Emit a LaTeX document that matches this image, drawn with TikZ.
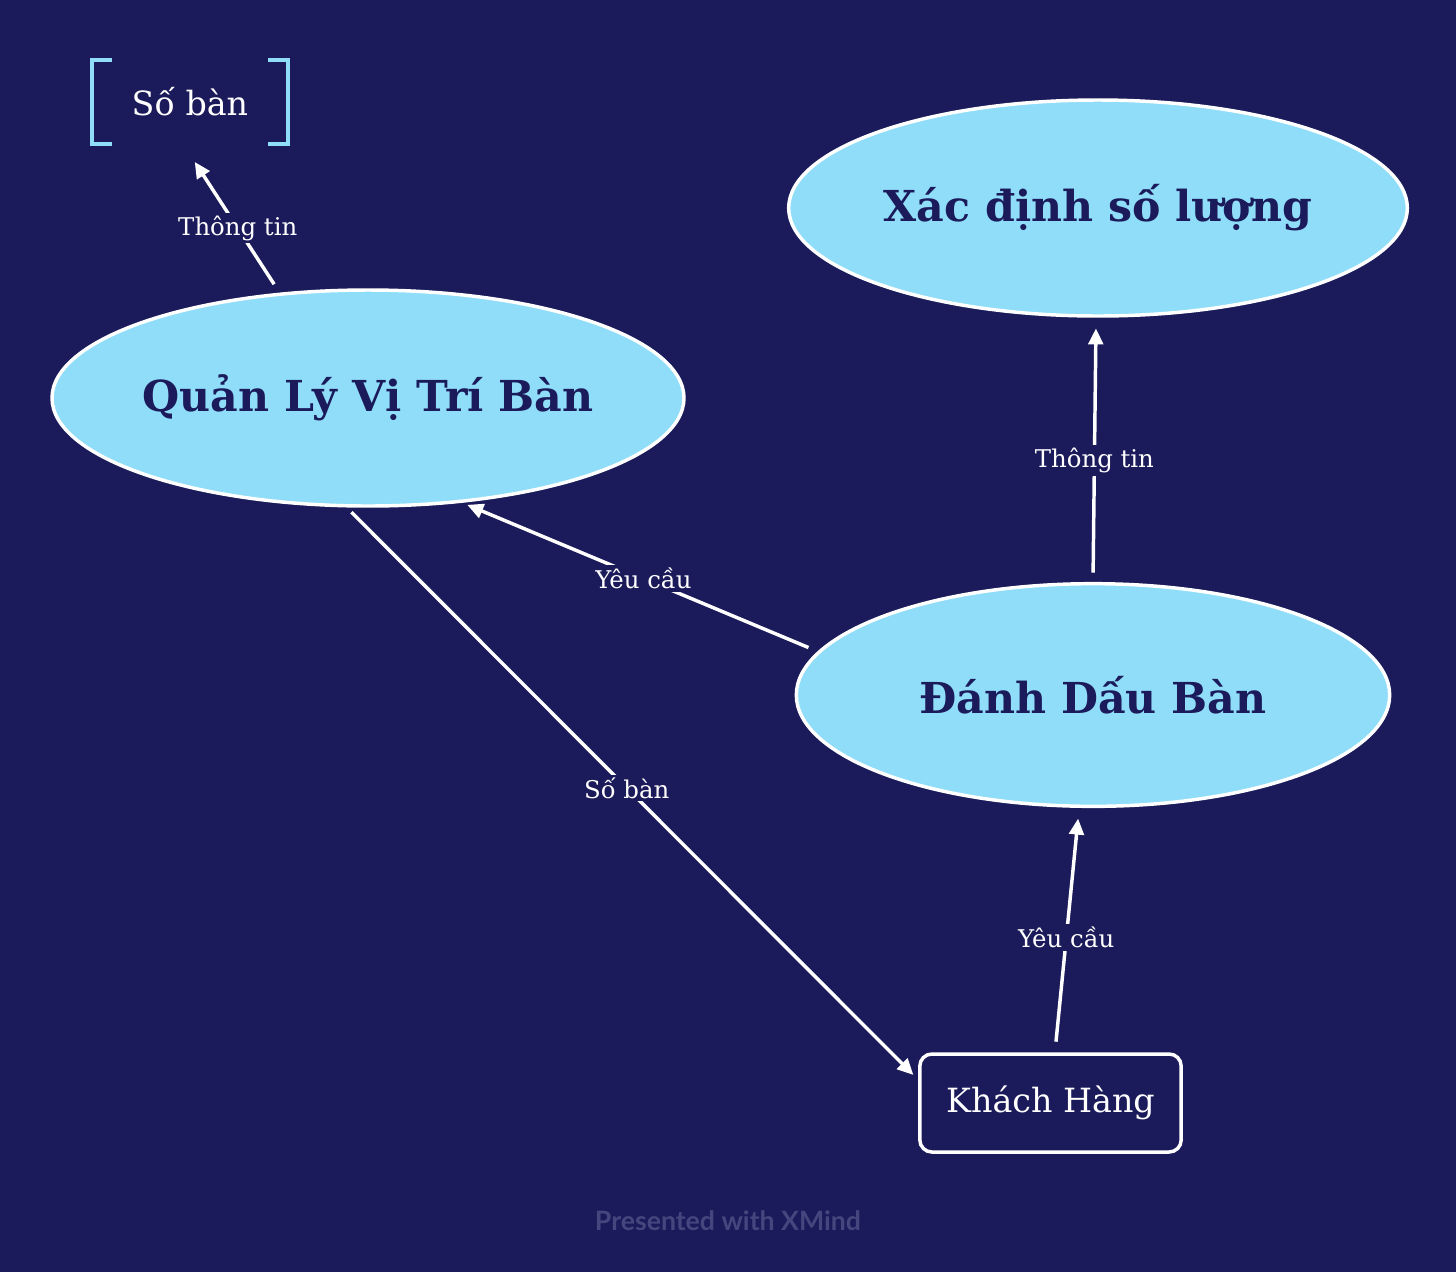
\documentclass[tikz,border=0pt]{standalone}
\usepackage{fontspec}
\setmainfont{DejaVu Serif}
\newfontfamily\wmfont{Lato}
\usetikzlibrary{arrows.meta,calc,shapes.geometric}
\definecolor{bg}{HTML}{1B1A5A}
\definecolor{lb}{HTML}{8FDDF8}
\definecolor{wm}{HTML}{45467E}
\begin{document}
\begin{tikzpicture}[x=0.75pt,y=-0.75pt,
  topic/.style={ellipse, draw=white, line width=2.6pt, fill=lb, text=bg,
    font=\bfseries\fontsize{32}{38}\selectfont, inner sep=-12pt},
  conn/.style={draw=white, line width=2.6pt, -{Triangle[length=12pt,width=11pt]}},
  lbl/.style={fill=bg, text=white, inner sep=2pt, font=\fontsize{18.3}{22}\selectfont},
]
\fill[bg] (0,0) rectangle (1456,1272);
\useasboundingbox (0,0) rectangle (1456,1272);

\node[topic, minimum width=474pt, minimum height=162pt] (q) at (368,398) {Quản Lý Vị Trí Bàn};
\node[topic, minimum width=464pt, minimum height=162pt] (x) at (1098,208) {Xác định số lượng};
\node[topic, minimum width=445pt, minimum height=167pt] (d) at (1093,695) {Đánh Dấu Bàn};
\node[draw=white, line width=2.6pt, rounded corners=9pt, fill=bg, text=white,
  minimum width=196pt, minimum height=73.5pt, inner sep=0pt,
  font=\fontsize{25}{30}\selectfont] (k) at (1050.5,1103) {Khách Hàng};
\node[minimum width=150pt, minimum height=66pt, inner sep=0pt, text=white,
  font=\fontsize{25}{30}\selectfont] (s) at (190,102) {Số bàn};
\draw[lb, line width=3pt] ($(s.north west)+(22,2)$) -- ($(s.north west)+(2,2)$) -- ($(s.south west)+(2,-2)$) -- ($(s.south west)+(22,-2)$);
\draw[lb, line width=3pt] ($(s.north east)+(-22,2)$) -- ($(s.north east)+(-2,2)$) -- ($(s.south east)+(-2,-2)$) -- ($(s.south east)+(-22,-2)$);

\draw[conn, shorten <=7.5pt, shorten >=14pt] (q.130) -- node[lbl, pos=0.44] {Thông tin} (s.263.5);
\draw[conn, shorten <=7pt, shorten >=8pt] (d.90) -- node[lbl, pos=0.46] {Thông tin} (x.269);
\draw[conn, shorten <=7.5pt, shorten >=4pt] (d.171.5) -- node[lbl, pos=0.49] {Yêu cầu} (q.-48);
\draw[conn, shorten <=5pt, shorten >=5pt] (q.-101) -- node[lbl, pos=0.49] {Số bàn} (k.170);
\draw[conn, shorten <=8pt, shorten >=8pt] (k.85) -- node[lbl, pos=0.47] {Yêu cầu} (d.263);

\node[text=wm, font=\wmfont\bfseries\fontsize{20}{24}\selectfont] (wmk) at (728,1221) {Presented with XMind};
\end{tikzpicture}
\end{document}
